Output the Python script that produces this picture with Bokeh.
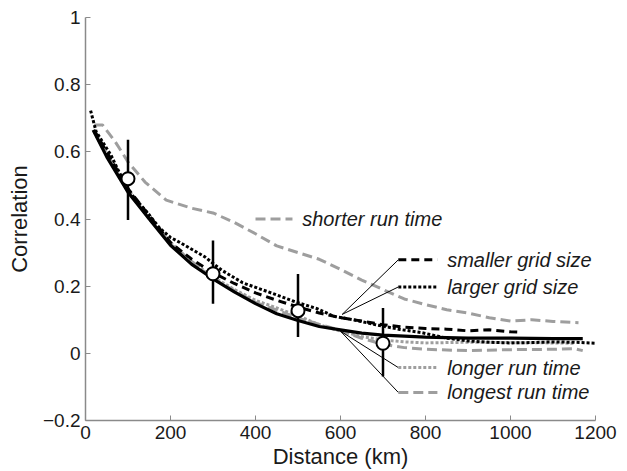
from bokeh.plotting import figure
from bokeh.models import ColumnDataSource, FixedTicker, Range1d
from bokeh.core.properties import value
from bokeh.embed import file_html
from bokeh.resources import INLINE

# ---------------- data ----------------
fit_x = [18, 50, 100, 150, 200, 250, 300, 350, 400, 450, 500, 550, 600, 650, 700, 800, 900, 1000, 1100, 1170]
fit_y = [0.665, 0.585, 0.48, 0.40, 0.322, 0.265, 0.222, 0.183, 0.148, 0.118, 0.098, 0.080, 0.070, 0.060, 0.054, 0.048, 0.045, 0.045, 0.044, 0.044]

larger_x = [12, 25, 45, 60, 75, 105, 145, 175, 200, 225, 280, 320, 370, 430, 490, 545, 585, 630, 680, 740, 790, 850, 900, 950, 1000, 1050, 1100, 1150, 1200]
larger_y = [0.723, 0.66, 0.62, 0.59, 0.55, 0.478, 0.42, 0.372, 0.345, 0.328, 0.288, 0.248, 0.21, 0.183, 0.155, 0.133, 0.11, 0.10, 0.086, 0.071, 0.062, 0.045, 0.037, 0.033, 0.031, 0.032, 0.034, 0.033, 0.030]

smaller_x = [20, 50, 100, 150, 200, 250, 300, 350, 400, 450, 500, 550, 600, 650, 700, 750, 800, 850, 900, 950, 1000, 1020]
smaller_y = [0.665, 0.60, 0.49, 0.41, 0.33, 0.28, 0.24, 0.208, 0.18, 0.158, 0.138, 0.12, 0.106, 0.096, 0.085, 0.078, 0.074, 0.072, 0.067, 0.070, 0.064, 0.063]

longer_x = [20, 50, 100, 150, 200, 250, 300, 350, 400, 450, 500, 550, 600, 650, 700, 750, 800, 900, 1000, 1100, 1150]
longer_y = [0.66, 0.59, 0.49, 0.40, 0.33, 0.272, 0.228, 0.19, 0.158, 0.135, 0.112, 0.085, 0.066, 0.050, 0.040, 0.034, 0.031, 0.033, 0.032, 0.031, 0.030]

longest_x = [20, 100, 200, 300, 400, 500, 600, 650, 700, 750, 800, 900, 1000, 1100, 1150, 1170]
longest_y = [0.665, 0.48, 0.325, 0.222, 0.152, 0.105, 0.068, 0.045, 0.027, 0.017, 0.012, 0.008, 0.011, 0.012, 0.014, 0.008]

shorter_x = [20, 40, 70, 100, 140, 190, 250, 300, 350, 400, 450, 500, 550, 600, 650, 700, 750, 800, 850, 900, 950, 1000, 1050, 1100, 1160]
shorter_y = [0.68, 0.68, 0.63, 0.57, 0.51, 0.456, 0.432, 0.418, 0.39, 0.356, 0.32, 0.30, 0.28, 0.25, 0.218, 0.19, 0.162, 0.145, 0.13, 0.12, 0.106, 0.096, 0.10, 0.095, 0.091]

obs_x = [100, 300, 500, 700]
obs_y = [0.52, 0.237, 0.127, 0.03]
obs_lo = [0.397, 0.148, 0.049, -0.069]
obs_hi = [0.636, 0.336, 0.236, 0.135]

x_ticks = [0, 200, 400, 600, 800, 1000, 1200]
y_ticks = [-0.2, 0, 0.2, 0.4, 0.6, 0.8, 1]
y_tick_labels = ["\u22120.2", "0", "0.2", "0.4", "0.6", "0.8", "1"]
x_title = "Distance (km)"
y_title = "Correlation"

label_texts = ["shorter run time", "smaller grid size", "larger grid size", "longer run time", "longest run time"]
label_y = [0.40, 0.2785, 0.1976, -0.0424, -0.1164]
label_key_x0 = [400, 736, 736, 736, 736]
label_key_x1 = [487, 828, 828, 828, 828]
label_text_x = [510, 851, 851, 851, 851]
leader_x0 = [604, 604, 600, 600]
leader_y0 = [0.116, 0.116, 0.066, 0.066]
leader_x1 = [736, 736, 736, 736]
leader_y1 = [0.2785, 0.1976, -0.0424, -0.1164]

# ---------------- styles ----------------
GRAY = "#9e9e9e"
FONT = "Liberation Sans"
DASH_GRAY = "10 5"
DASH_BLACK = "8 5"
DOT = "3 2"

p = figure(width=619, height=471, output_backend="svg", toolbar_location=None,
           x_range=Range1d(0, 1200), y_range=Range1d(-0.2, 1.0),
           min_border_left=85, min_border_right=24, min_border_top=17, min_border_bottom=49)
p.outline_line_color = None
p.xgrid.grid_line_color = None
p.ygrid.grid_line_color = None

for ax in (p.xaxis[0], p.yaxis[0]):
    ax.axis_line_color = "#8a8a8a"
    ax.axis_line_width = 1.5
    ax.major_tick_line_color = "#8a8a8a"
    ax.major_tick_in = 5
    ax.major_tick_out = 0
    ax.minor_tick_line_color = None
    ax.major_label_text_font = FONT
    ax.major_label_text_font_size = "19px"
    ax.major_label_text_color = "#1a1a1a"
    ax.axis_label_text_font = FONT
    ax.axis_label_text_font_style = "normal"
    ax.axis_label_text_color = "#1a1a1a"

p.xaxis.ticker = FixedTicker(ticks=x_ticks)
p.yaxis.ticker = FixedTicker(ticks=y_ticks)
p.yaxis.major_label_overrides = {t: l for t, l in zip(y_ticks, y_tick_labels)}
p.xaxis.axis_label = x_title
p.yaxis.axis_label = y_title
p.xaxis.axis_label_text_font_size = "22px"
p.yaxis.axis_label_text_font_size = "22px"
p.xaxis.major_label_text_line_height = 0.9
p.xaxis.axis_label_text_line_height = 0.9
p.xaxis.major_label_standoff = 5
p.xaxis.axis_label_standoff = 2
p.yaxis.major_label_standoff = 5
p.yaxis.axis_label_standoff = 8

# series
p.line(shorter_x, shorter_y, line_color=GRAY, line_width=3, line_dash=DASH_GRAY)
p.line(longest_x, longest_y, line_color=GRAY, line_width=3, line_dash=DASH_GRAY)
p.line(longer_x, longer_y, line_color=GRAY, line_width=3, line_dash=DOT)
p.line(smaller_x, smaller_y, line_color="black", line_width=3, line_dash=DASH_BLACK)
p.line(larger_x, larger_y, line_color="black", line_width=3, line_dash=DOT)
p.line(fit_x, fit_y, line_color="black", line_width=3.2)

# error bars and observed points
p.segment(x0=obs_x, y0=obs_lo, x1=obs_x, y1=obs_hi, line_color="black", line_width=2.5)
p.scatter(obs_x, obs_y, size=13, fill_color="white", line_color="black", line_width=2)

# annotation leader lines
p.segment(x0=leader_x0, y0=leader_y0, x1=leader_x1, y1=leader_y1, line_color="black", line_width=1)

# label keys
key_colors = [GRAY, "black", "black", GRAY, GRAY]
key_dashes = [DASH_GRAY, DASH_BLACK, DOT, DOT, DASH_GRAY]
for i in range(len(label_texts)):
    p.line([label_key_x0[i], label_key_x1[i]], [label_y[i], label_y[i]],
           line_color=key_colors[i], line_width=3, line_dash=key_dashes[i])

lab_src = ColumnDataSource(dict(x=label_text_x, y=label_y, t=label_texts))
p.text(x="x", y="y", text="t", source=lab_src, text_font=value(FONT),
       text_font_size="20px", text_font_style="italic", text_baseline="middle",
       text_align="left", text_color="#1a1a1a")

open("out.html", "w").write(file_html(p, INLINE))
